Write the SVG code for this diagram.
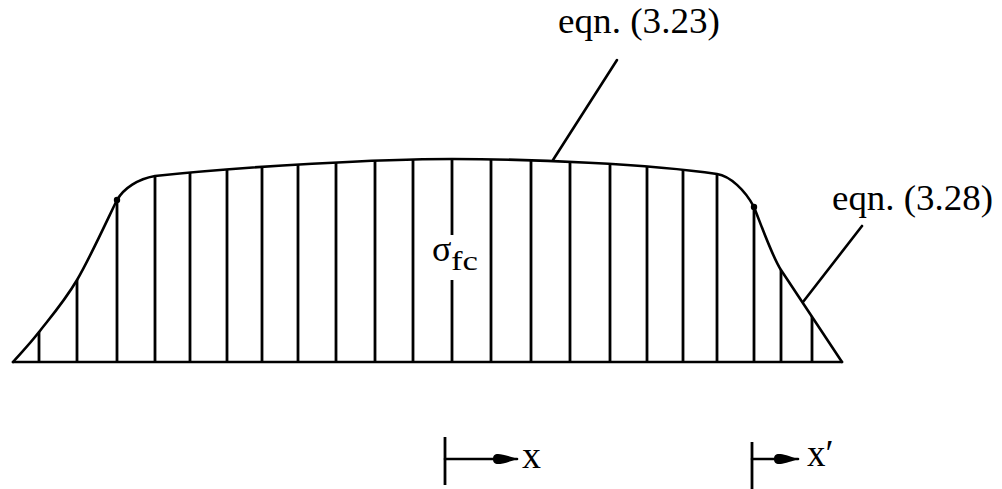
<svg xmlns="http://www.w3.org/2000/svg" width="1002" height="489" viewBox="0 0 1002 489">
<style>
.ln{stroke:#000;stroke-width:2.6;fill:none;stroke-linecap:round;stroke-linejoin:round}
.hatch{stroke:#000;stroke-width:2.8;fill:none}
.lbl{font-family:"Liberation Serif","Times New Roman",serif;fill:#000}
</style>
<defs>
<marker id="ah" markerUnits="userSpaceOnUse" markerWidth="28" markerHeight="14" refX="25" refY="7" orient="auto">
<path d="M1,7 C1,0 7,0.5 25,7 C7,13.5 1,14 1,7 Z" fill="#000"/>
</marker>
<clipPath id="area">
<path d="M13,362 C21.7,352 28.3,345.7 39,332 C49.7,318.3 64,302 77,280 C90,258 110.3,213.3 117,200 C124,188 138,179 155,176 C250,166 380,159 452,159 C530,159 650,164 717,174 C730,176 745,190 754,207 C763,230 773,258 781,270 L842,362 Z"/>
</clipPath>
</defs>
<rect width="1002" height="489" fill="#fff"/>
<g id="distribution">
<path class="ln" d="M13,362 L842,362"/>
<path class="ln" d="M13,362 C21.7,352 28.3,345.7 39,332 C49.7,318.3 64,302 77,280 C90,258 110.3,213.3 117,200 C124,188 138,179 155,176 C250,166 380,159 452,159 C530,159 650,164 717,174 C730,176 745,190 754,207 C763,230 773,258 781,270 L842,362"/>
<g class="hatch" clip-path="url(#area)">
<path d="M39,362V150"/>
<path d="M77,362V150"/>
<path d="M117,362V150"/>
<path d="M155,362V150"/>
<path d="M190,362V150"/>
<path d="M227,362V150"/>
<path d="M262,362V150"/>
<path d="M298,362V150"/>
<path d="M336,362V150"/>
<path d="M375,362V150"/>
<path d="M413,362V150"/>
<path d="M452,362V280M452,235V150"/>
<path d="M491,362V150"/>
<path d="M531,362V150"/>
<path d="M570,362V150"/>
<path d="M610,362V150"/>
<path d="M647,362V150"/>
<path d="M683,362V150"/>
<path d="M717,362V150"/>
<path d="M754,362V150"/>
<path d="M781,362V150"/>
<path d="M812,362V150"/>
</g>
<circle cx="117" cy="200" r="3.2" fill="#000"/>
<circle cx="754" cy="207" r="3.2" fill="#000"/>
</g>
<g id="label-sigma">
<text class="lbl" x="432" y="261" font-size="36">σ</text>
<text class="lbl" x="451" y="270" font-size="28" textLength="27" lengthAdjust="spacingAndGlyphs">fc</text>
</g>
<g id="label-eqn323">
<text class="lbl" x="558" y="33" font-size="36" textLength="162" lengthAdjust="spacingAndGlyphs">eqn. (3.23)</text>
</g>
<g id="label-eqn328">
<text class="lbl" x="832" y="210" font-size="36" textLength="161" lengthAdjust="spacingAndGlyphs">eqn. (3.28)</text>
</g>
<g id="connectors">
<path class="ln" d="M617,60 L553,160"/>
<path class="ln" d="M862,226 L803,302"/>
</g>
<g id="axis-x">
<path class="hatch" d="M445,437V485"/>
<path class="ln" d="M445,459H517" marker-end="url(#ah)"/>
<text class="lbl" x="522" y="468" font-size="38">x</text>
</g>
<g id="axis-xprime">
<path class="hatch" d="M752,442V489"/>
<path class="ln" d="M752,459H798" marker-end="url(#ah)"/>
<text class="lbl" x="807" y="466" font-size="37">x′</text>
</g>
</svg>
